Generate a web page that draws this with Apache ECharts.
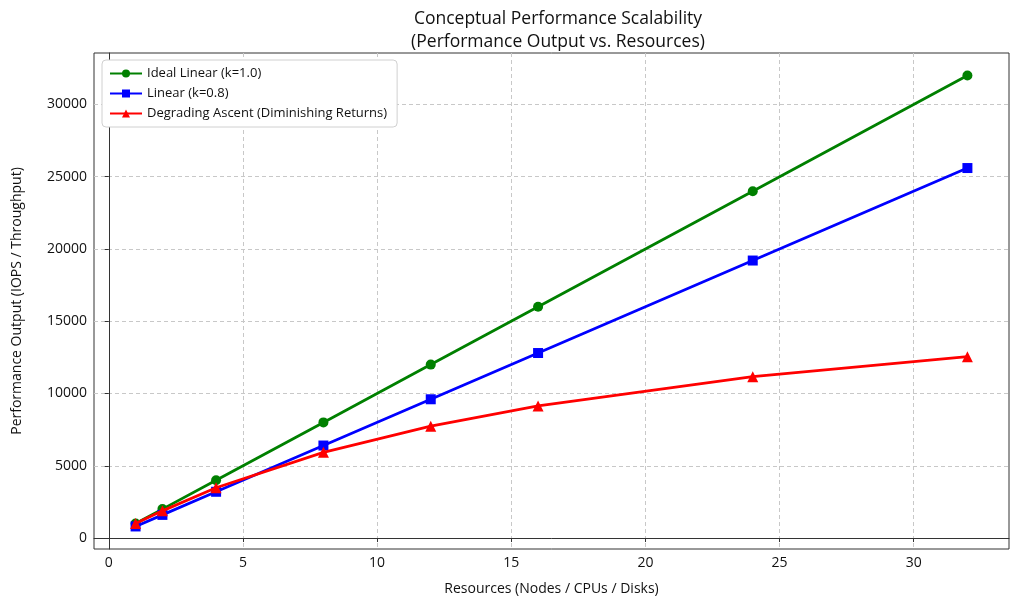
<!DOCTYPE html>
<html><head><meta charset="utf-8">
<script src="https://cdn.jsdelivr.net/npm/echarts@6/dist/echarts.min.js"></script>
<style>html,body{margin:0;padding:0;background:#fff}#c{width:1024px;height:609px}</style>
</head><body><div id="c"></div>
<script>
const resources = [1, 2, 4, 8, 12, 16, 24, 32];
const idealLinear = [1000, 2000, 4000, 8000, 12000, 16000, 24000, 32000];
const linear08 = [800, 1600, 3200, 6400, 9600, 12800, 19200, 25600];
const degrading = [1000, 1880, 3478, 5926, 7742, 9143, 11163, 12549];
const xTicks = [0, 5, 10, 15, 20, 25, 30];
const yTicks = [0, 5000, 10000, 15000, 20000, 25000, 30000];

const font = 'Open Sans';
const pairs = (ys) => resources.map((x, i) => [x, ys[i]]);
const chart = echarts.init(document.getElementById('c'));
const gridLine = { show: true, lineStyle: { color: '#c8c8c8', type: [4, 3], width: 1 } };
chart.setOption({
  animation: false,
  textStyle: { fontFamily: font },
  title: {
    text: 'Conceptual Performance Scalability\n(Performance Output vs. Resources)',
    left: 553, top: 3, textAlign: 'center',
    textStyle: { fontFamily: font, fontSize: 17.5, fontWeight: 'normal', color: '#111', lineHeight: 23 }
  },
  legend: {
    orient: 'vertical', left: 102, top: 60,
    padding: [7, 10, 7, 7], itemGap: 7, itemWidth: 32, itemHeight: 10,
    borderColor: '#d0d0d0', borderWidth: 1, borderRadius: 4, backgroundColor: '#fff',
    textStyle: { fontFamily: font, fontSize: 13, color: '#111' },
    data: ['Ideal Linear (k=1.0)', 'Linear (k=0.8)', 'Degrading Ascent (Diminishing Returns)']
  },
  grid: { left: 94, right: 15, top: 53, bottom: 60, show: true, borderColor: '#333', borderWidth: 1, backgroundColor: 'transparent' },
  xAxis: {
    type: 'value', min: -0.55, max: 33.55,
    name: 'Resources (Nodes / CPUs / Disks)', nameLocation: 'middle', nameGap: 33,
    nameTextStyle: { fontFamily: font, fontSize: 14, color: '#111' },
    axisLine: { show: true, lineStyle: { color: '#333' } },
    axisTick: { show: true, customValues: xTicks, length: 4, lineStyle: { color: '#333' } },
    axisLabel: { customValues: xTicks, fontFamily: font, fontSize: 14, color: '#111', margin: 7 },
    splitLine: gridLine
  },
  yAxis: {
    type: 'value', min: -760, max: 33560,
    name: 'Performance Output (IOPS / Throughput)', nameLocation: 'middle', nameGap: 70,
    nameTextStyle: { fontFamily: font, fontSize: 14, color: '#111' },
    axisLine: { show: true, lineStyle: { color: '#333' } },
    axisTick: { show: true, customValues: yTicks, length: 4, lineStyle: { color: '#333' } },
    axisLabel: { customValues: yTicks, formatter: (v) => String(v), fontFamily: font, fontSize: 14, color: '#111', margin: 7 },
    splitLine: gridLine
  },
  series: [
    { name: 'Ideal Linear (k=1.0)', type: 'line', data: pairs(idealLinear), symbol: 'circle', symbolSize: 10,
      color: '#008000', lineStyle: { width: 2.8 }, z: 3 },
    { name: 'Linear (k=0.8)', type: 'line', data: pairs(linear08), symbol: 'rect', symbolSize: 10,
      color: '#0000ff', lineStyle: { width: 2.8 }, z: 4 },
    { name: 'Degrading Ascent (Diminishing Returns)', type: 'line', data: pairs(degrading), symbol: 'triangle', symbolSize: 11,
      color: '#ff0000', lineStyle: { width: 2.8 }, z: 5 }
  ]
});
</script></body></html>
